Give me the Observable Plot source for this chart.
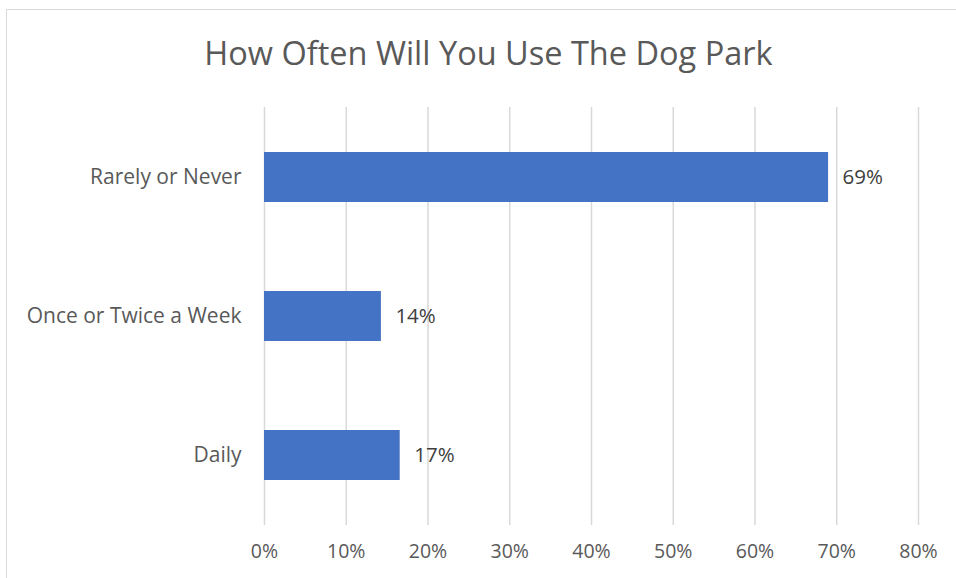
<!DOCTYPE html>
<html>
<head>
<meta charset="utf-8">
<script src="https://cdn.jsdelivr.net/npm/d3@7"></script>
<script src="https://cdn.jsdelivr.net/npm/@observablehq/plot@0.6"></script>
<style>
  html, body { margin: 0; padding: 0; background: #fff; }
  #wrap { position: relative; width: 956px; height: 578px; overflow: hidden; }
  #border { position: absolute; left: 6px; top: 9px; width: 960px; height: 580px;
            border-top: 1.5px solid #d9d9d9; border-left: 1.5px solid #d9d9d9; box-sizing: border-box; }
  #chart { position: absolute; left: 0; top: 0; }
</style>
</head>
<body>
<div id="wrap"><div id="border"></div><div id="chart"></div></div>
<script>
const title = "How Often Will You Use The Dog Park";
const categories = ["Rarely or Never", "Once or Twice a Week", "Daily"];
const values = [0.69, 0.143, 0.166];
const xTicks = [0, 0.1, 0.2, 0.3, 0.4, 0.5, 0.6, 0.7, 0.8];

const data = categories.map((c, i) => ({category: c, value: values[i]}));
const font = "'Open Sans', sans-serif";
const pct = d3.format(".0%");

const chart = Plot.plot({
  width: 956,
  height: 578,
  marginLeft: 264,
  marginRight: 38,
  marginTop: 107,
  marginBottom: 53,
  style: {fontFamily: font, background: "transparent", overflow: "visible"},
  x: {domain: [0, 0.8], ticks: xTicks, tickFormat: pct, label: null},
  y: {domain: categories, paddingInner: 0.64, paddingOuter: 0.32, label: null},
  marks: [
    Plot.gridX(xTicks, {stroke: "#d9d9d9", strokeOpacity: 1, strokeWidth: 1.5}),
    Plot.axisX({ticks: xTicks, tickFormat: pct, tickSize: 0, tickPadding: 19, fontSize: 19.5, fill: "#595959", label: null}),
    Plot.axisY({tickSize: 0, tickPadding: 23, fontSize: 21, fill: "#595959", label: null}),
    Plot.barX(data, {x: "value", y: "category", fill: "#4472c4"}),
    Plot.text(data, {x: "value", y: "category", text: d => pct(d.value), textAnchor: "start", dx: 14, fontSize: 20.5, fill: "#404040"}),
    Plot.text([title], {frameAnchor: "top", dy: -66, dx: -103, text: d => d, fontSize: 32.5, fill: "#595959"}),
  ]
});
document.getElementById("chart").appendChild(chart);
</script>
</body>
</html>
